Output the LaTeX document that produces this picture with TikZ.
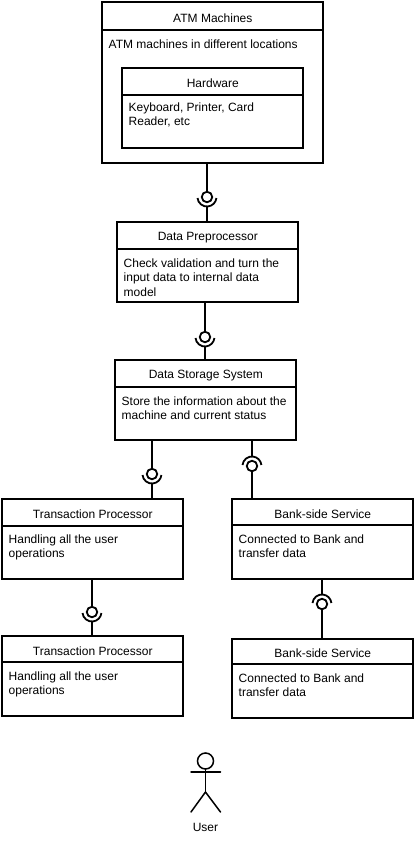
\documentclass[tikz,border=0pt]{standalone}
\usepackage{fontspec}
\setmainfont{Liberation Sans}
\usetikzlibrary{calc}
\tikzset{
  x=1pt,y=-1pt,
  lane/.style={draw=black,line width=2pt,fill=white,anchor=north west,inner sep=0pt,outer sep=0pt},
  divider/.style={draw=black,line width=1.5pt},
  conn/.style={draw=black,line width=1.8pt},
  ball/.style={circle,draw=black,line width=1.8pt,fill=white,minimum size=10.5pt,inner sep=0pt,outer sep=0pt},
  ttl/.style={font=\fontsize{12}{14.4}\selectfont,inner sep=0pt},
  txt/.style={font=\fontsize{12}{14.5}\selectfont,anchor=north west,align=left,inner sep=0pt},
  actor/.style={draw=black,line width=1.5pt,line cap=round},
}
\newcommand{\bodydrop}{9.5}
\newcommand{\lanebox}[8]{%name,x,y,w,h,titleh,title,body
  \node[lane,minimum width=#4pt,minimum height=#5pt] (#1) at (#2,#3) {};
  \coordinate (#1dl) at ($(#1.north west)+(0,-#6pt)$);
  \coordinate (#1dr) at ($(#1.north east)+(0,-#6pt)$);
  \draw[divider] (#1dl) -- (#1dr);
  \node[ttl] (#1title) at ($(#1.north)!0.5!(#1.north |- #1dl)+(0.3pt,-1.8pt)$) {#7};
  \node[txt] (#1text) at ($(#1dl)+(6.5pt,-\bodydrop pt)$) {#8};
}
\newcommand{\lollidown}[5]{%name,x,y,from,to
  \node[ball] (#1) at (#2,#3) {};
  \coordinate (#1s) at ($(#1.center)+(0,-9.5pt)$);
  \draw[conn] (#4.south -| #1) -- (#1.north);
  \draw[conn] ($(#1.center)+(-9.5pt,-1pt)$) arc[start angle=186,end angle=354,radius=9.5pt];
  \draw[conn] (#1s) -- (#5.north -| #1);
}
\newcommand{\lolliup}[5]{%
  \node[ball] (#1) at (#2,#3) {};
  \coordinate (#1s) at ($(#1.center)+(0,9.5pt)$);
  \draw[conn] (#4.south -| #1) -- (#1s);
  \draw[conn] ($(#1.center)+(-9.5pt,1pt)$) arc[start angle=174,end angle=6,radius=9.5pt];
  \draw[conn] (#1.south) -- (#5.north -| #1);
}
\begin{document}
\begin{tikzpicture}
\useasboundingbox (0,0) rectangle (414,847);
\fill[white] (0,0) rectangle (414,847);
\lanebox{atm}{102}{2}{221}{161}{28}{ATM Machines}{ATM machines in different locations}
\renewcommand{\bodydrop}{7.5}
\lanebox{hw}{122}{68}{181}{80}{27}{Hardware}{Keyboard, Printer, Card\\Reader, etc}
\renewcommand{\bodydrop}{9.5}
\lanebox{prep}{117}{222}{181}{80}{27}{Data Preprocessor}{Check validation and turn the\\input data to internal data\\model}
\lanebox{store}{115}{360}{181}{80}{27}{Data Storage System}{Store the information about the\\machine and current status}
\renewcommand{\bodydrop}{8.5}
\lanebox{tpa}{2}{499}{181}{80}{27}{Transaction Processor}{Handling all the user\\operations}
\renewcommand{\bodydrop}{9.5}
\lanebox{bsa}{232}{499}{181}{80}{26}{Bank-side Service}{Connected to Bank and\\transfer data}
\lanebox{tpb}{2}{636}{181}{80}{26}{Transaction Processor}{Handling all the user\\operations}
\lanebox{bsb}{232}{639}{181}{79}{25}{Bank-side Service}{Connected to Bank and\\transfer data}
\lollidown{la}{207}{197}{atm}{prep}
\lollidown{lb}{205}{337}{prep}{store}
\lollidown{lc}{152}{474}{store}{tpa}
\lolliup{ld}{252}{466}{store}{bsa}
\lollidown{le}{92}{612}{tpa}{tpb}
\lolliup{lf}{322}{604}{bsa}{bsb}
\node[circle,draw=black,line width=1.5pt,minimum size=16pt,inner sep=0pt,outer sep=0pt] (head) at (205.5,761) {};
\coordinate (hip) at (205.5,792);
\coordinate (armL) at (191,772);
\coordinate (armR) at (220.5,772);
\coordinate (footL) at (191,812);
\coordinate (footR) at (220.5,812);
\draw[actor] (head.south) -- (hip);
\draw[actor] (armL) -- (armR);
\draw[actor] (footL) -- (hip) -- (footR);
\node[ttl] (user) at (205.5,827.5) {User};
\end{tikzpicture}
\end{document}
